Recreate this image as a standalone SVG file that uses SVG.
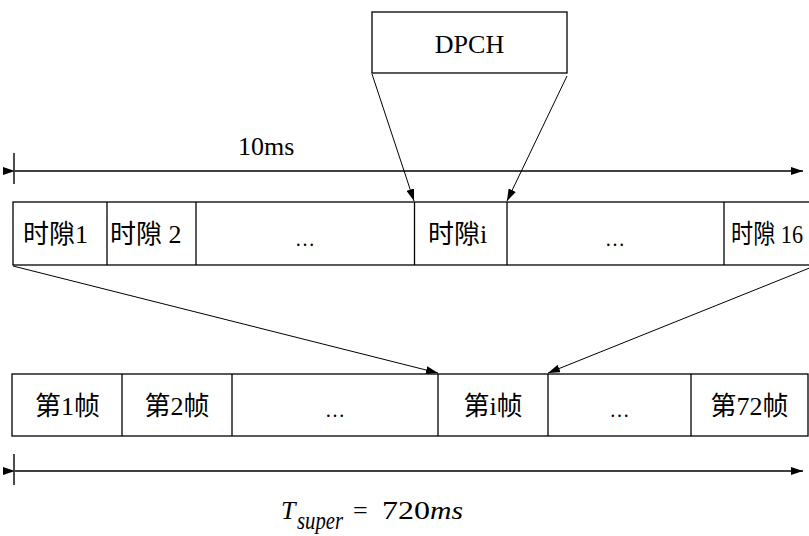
<svg xmlns="http://www.w3.org/2000/svg" width="809" height="536" viewBox="0 0 809 536">
<defs>
<style>
.box{fill:#fff;stroke:#000;stroke-width:1.3}
.div{stroke:#000;stroke-width:1.3}
.axis{stroke:#000;stroke-width:1.4;fill:none}
.conn{stroke:#000;stroke-width:1;fill:none}
.t{font-family:"Liberation Serif","Noto Sans CJK SC",serif;font-size:26px;fill:#000}
.c{text-anchor:middle}
.dots{font-family:"Liberation Serif",serif;font-size:20px;fill:#000;text-anchor:middle}
.it{font-style:italic}
</style>
<marker id="ah" viewBox="0 0 12 8" refX="12" refY="4" markerWidth="12" markerHeight="8" markerUnits="userSpaceOnUse" orient="auto">
<path d="M0,0 L12,4 L0,8 z" fill="#000"/>
</marker>
</defs>
<rect width="809" height="536" fill="#fff"/>

<g id="dpch">
<rect class="box" x="372" y="12" width="195" height="61"/>
<text class="t c" x="469.5" y="53" font-size="27">DPCH</text>
</g>

<g id="axis-10ms">
<line class="axis" x1="14" y1="153" x2="14" y2="184"/>
<line class="axis" x1="15" y1="171" x2="803" y2="171" marker-start="url(#ah)" marker-end="url(#ah)"/>
<text class="t" x="238" y="155">10ms</text>
</g>

<g id="slots">
<rect class="box" x="13" y="202" width="802" height="63"/>
<line class="div" x1="107" y1="202" x2="107" y2="265"/>
<line class="div" x1="196" y1="202" x2="196" y2="265"/>
<line class="div" x1="414.5" y1="202" x2="414.5" y2="265"/>
<line class="div" x1="507" y1="202" x2="507" y2="265"/>
<line class="div" x1="724" y1="202" x2="724" y2="265"/>
<text class="t" x="23" y="243">时隙1</text>
<text class="t" x="110" y="243">时隙 2</text>
<text class="dots" x="305" y="246">…</text>
<text class="t" x="428" y="243">时隙i</text>
<text class="dots" x="615" y="246">…</text>
<text class="t" x="731" y="243" font-size="25" textLength="72" lengthAdjust="spacingAndGlyphs">时隙 16</text>
</g>

<g id="frames">
<rect class="box" x="12" y="374" width="796" height="62"/>
<line class="div" x1="122" y1="374" x2="122" y2="436"/>
<line class="div" x1="232" y1="374" x2="232" y2="436"/>
<line class="div" x1="438" y1="374" x2="438" y2="436"/>
<line class="div" x1="548" y1="374" x2="548" y2="436"/>
<line class="div" x1="691" y1="374" x2="691" y2="436"/>
<text class="t c" x="67.5" y="415">第1帧</text>
<text class="t c" x="177" y="415">第2帧</text>
<text class="dots" x="335" y="417">…</text>
<text class="t c" x="493" y="415">第i帧</text>
<text class="dots" x="619.5" y="417">…</text>
<text class="t c" x="749.5" y="415">第72帧</text>
</g>

<g id="axis-720ms">
<line class="axis" x1="14" y1="454" x2="14" y2="485"/>
<line class="axis" x1="15" y1="471" x2="803" y2="471" marker-start="url(#ah)" marker-end="url(#ah)"/>
<text class="t it" x="281" y="519" font-size="24">T</text>
<text class="t it" x="297" y="529" font-size="15" textLength="46" lengthAdjust="spacingAndGlyphs">super</text>
<text class="t" x="353" y="519" font-size="26">=</text>
<text class="t" x="382" y="519" font-size="24" textLength="48" lengthAdjust="spacingAndGlyphs">720</text>
<text class="t it" x="430" y="519" font-size="24" textLength="33" lengthAdjust="spacingAndGlyphs">ms</text>
</g>

<g id="connectors">
<line class="conn" x1="372" y1="74" x2="414" y2="201" marker-end="url(#ah)"/>
<line class="conn" x1="567" y1="76" x2="507" y2="201" marker-end="url(#ah)"/>
<line class="conn" x1="13" y1="266" x2="438" y2="373" marker-end="url(#ah)"/>
<line class="conn" x1="812" y1="267" x2="548" y2="373" marker-end="url(#ah)"/>
</g>
</svg>
